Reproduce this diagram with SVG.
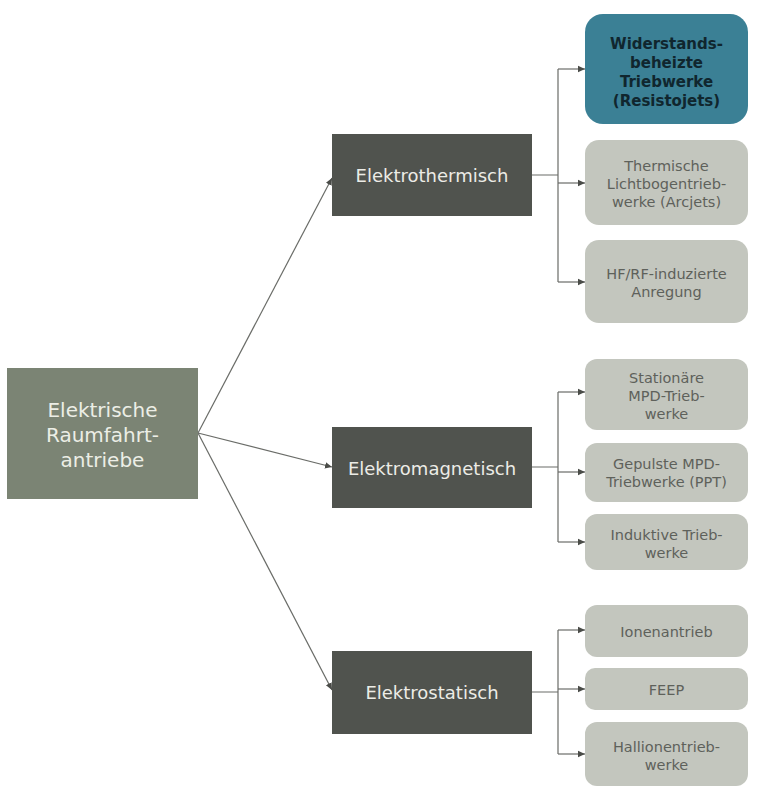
<svg xmlns="http://www.w3.org/2000/svg" width="763" height="793" viewBox="0 0 763 793">
<defs>
<style>
.root{fill:#7b8474}
.cat{fill:#50534e}
.leaf{fill:#c3c6be}
.hl{fill:#3b8095}
.rt{font-family:"DejaVu Sans","Liberation Sans",sans-serif;font-size:20px;fill:#eceee6;text-anchor:middle}
.ct{font-family:"DejaVu Sans","Liberation Sans",sans-serif;font-size:18px;fill:#ecece6;text-anchor:middle}
.lt{font-family:"DejaVu Sans","Liberation Sans",sans-serif;font-size:14.5px;fill:#5e615b;text-anchor:middle}
.ht{font-family:"DejaVu Sans","Liberation Sans",sans-serif;font-size:15px;font-weight:bold;fill:#10262e;text-anchor:middle}
.ln{fill:none;stroke:#6a6c68;stroke-width:1.2}
</style>
<marker id="ah" markerWidth="8" markerHeight="8" refX="7" refY="4" orient="auto" markerUnits="userSpaceOnUse">
<path d="M0,0.8 L7,4 L0,7.2 Z" fill="#4a4c48"/>
</marker>
</defs>
<rect width="763" height="793" fill="#ffffff"/>
<g id="connectors">
<path class="ln" d="M198,433 L332,178" marker-end="url(#ah)"/>
<path class="ln" d="M198,433 L332,467" marker-end="url(#ah)"/>
<path class="ln" d="M198,433 L332,690" marker-end="url(#ah)"/>
<path class="ln" d="M532,175 H558 M558,69 V282"/>
<path class="ln" d="M558,69 H585" marker-end="url(#ah)"/>
<path class="ln" d="M558,183 H585" marker-end="url(#ah)"/>
<path class="ln" d="M558,282 H585" marker-end="url(#ah)"/>
<path class="ln" d="M532,467 H558 M558,392 V542"/>
<path class="ln" d="M558,392 H585" marker-end="url(#ah)"/>
<path class="ln" d="M558,472 H585" marker-end="url(#ah)"/>
<path class="ln" d="M558,542 H585" marker-end="url(#ah)"/>
<path class="ln" d="M532,692 H558 M558,630 V754"/>
<path class="ln" d="M558,630 H585" marker-end="url(#ah)"/>
<path class="ln" d="M558,689 H585" marker-end="url(#ah)"/>
<path class="ln" d="M558,754 H585" marker-end="url(#ah)"/>
</g>
<g id="root">
<rect class="root" x="7" y="368" width="191" height="131"/>
<text class="rt" x="102.5" y="417">Elektrische</text>
<text class="rt" x="102.5" y="442">Raumfahrt-</text>
<text class="rt" x="102.5" y="467">antriebe</text>
</g>
<g id="elektrothermisch">
<rect class="cat" x="332" y="134" width="200" height="82"/>
<text class="ct" x="432" y="182">Elektrothermisch</text>
</g>
<g id="elektromagnetisch">
<rect class="cat" x="332" y="427" width="200" height="81"/>
<text class="ct" x="432" y="475">Elektromagnetisch</text>
</g>
<g id="elektrostatisch">
<rect class="cat" x="332" y="651" width="200" height="83"/>
<text class="ct" x="432" y="699">Elektrostatisch</text>
</g>
<g id="resistojets">
<rect class="hl" x="585" y="14" width="163" height="110" rx="18"/>
<text class="ht" x="666.5" y="49">Widerstands-</text>
<text class="ht" x="666.5" y="68">beheizte</text>
<text class="ht" x="666.5" y="87">Triebwerke</text>
<text class="ht" x="666.5" y="106">(Resistojets)</text>
</g>
<g id="arcjets">
<rect class="leaf" x="585" y="140" width="163" height="85" rx="14"/>
<text class="lt" x="666.5" y="171">Thermische</text>
<text class="lt" x="666.5" y="189">Lichtbogentrieb-</text>
<text class="lt" x="666.5" y="207">werke (Arcjets)</text>
</g>
<g id="hfrf">
<rect class="leaf" x="585" y="240" width="163" height="83" rx="14"/>
<text class="lt" x="666.5" y="279">HF/RF-induzierte</text>
<text class="lt" x="666.5" y="297">Anregung</text>
</g>
<g id="stationaer">
<rect class="leaf" x="585" y="359" width="163" height="71" rx="12"/>
<text class="lt" x="666.5" y="383">Stationäre</text>
<text class="lt" x="666.5" y="401">MPD-Trieb-</text>
<text class="lt" x="666.5" y="419">werke</text>
</g>
<g id="gepulst">
<rect class="leaf" x="585" y="443" width="163" height="59" rx="12"/>
<text class="lt" x="666.5" y="469">Gepulste MPD-</text>
<text class="lt" x="666.5" y="487">Triebwerke (PPT)</text>
</g>
<g id="induktiv">
<rect class="leaf" x="585" y="514" width="163" height="56" rx="12"/>
<text class="lt" x="666.5" y="540">Induktive Trieb-</text>
<text class="lt" x="666.5" y="558">werke</text>
</g>
<g id="ionen">
<rect class="leaf" x="585" y="605" width="163" height="52" rx="12"/>
<text class="lt" x="666.5" y="637">Ionenantrieb</text>
</g>
<g id="feep">
<rect class="leaf" x="585" y="668" width="163" height="42" rx="10"/>
<text class="lt" x="666.5" y="695">FEEP</text>
</g>
<g id="hallionen">
<rect class="leaf" x="585" y="722" width="163" height="64" rx="12"/>
<text class="lt" x="666.5" y="752">Hallionentrieb-</text>
<text class="lt" x="666.5" y="770">werke</text>
</g>
</svg>
